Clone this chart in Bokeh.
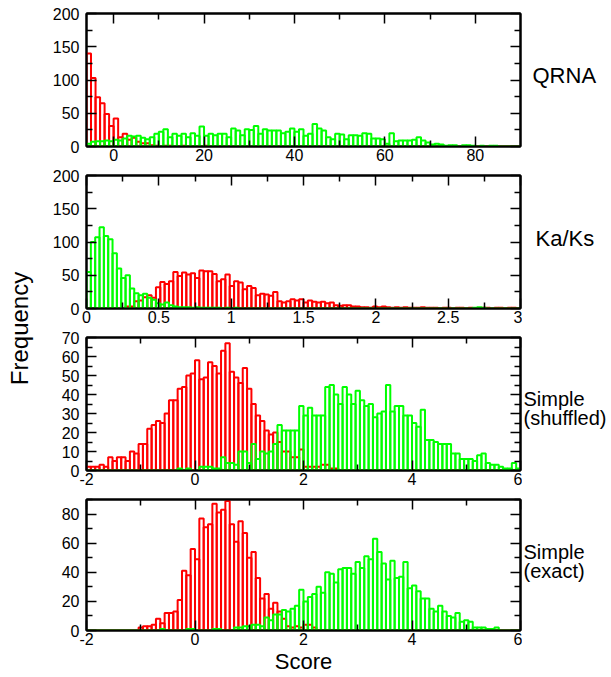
import numpy as np
from bokeh.plotting import figure
from bokeh.models import Range1d, LinearAxis, FixedTicker, CustomJSTickFormatter
from bokeh.layouts import row, column
from bokeh.embed import file_html
from bokeh.resources import INLINE
from bokeh.core.properties import value

# ---------------- data (histogram counts) ----------------
# QRNA: bins of width 1 starting at -6
qrna_start, qrna_bw = -6, 1.0
qrna_red = [140, 103, 74, 65, 49, 31, 42, 14, 19, 10, 13, 7, 5, 5, 2, 1, 0, 1, 1, 0,
            0, 1, 0, 0, 0, 0, 1, 0, 0, 0, 0, 0, 0, 0, 0, 0, 0, 0, 0, 0,
            0, 0, 0, 0, 0, 0, 0, 0, 0, 0, 0, 0, 0, 0, 0, 0, 0, 0, 0, 0,
            0, 0, 0, 0, 0, 0, 0, 0, 0, 0, 0, 0, 0, 0, 0, 0, 0, 0, 0, 0,
            0, 0, 0, 0, 0, 0, 0, 0, 0, 0, 0, 0, 0, 0, 0, 0]
qrna_green = [4, 7, 8, 8, 9, 8, 10, 9, 12, 16, 15, 16, 13, 11, 14,
              19, 22, 26, 14, 19, 16, 19, 14, 20, 16, 30, 16, 19, 17, 19,
              19, 14, 27, 24, 17, 26, 25, 31, 19, 26, 24, 24, 24, 20, 22,
              27, 22, 26, 16, 19, 34, 27, 24, 14, 11, 19, 18, 11, 17, 17,
              16, 20, 19, 12, 12, 11, 4, 20, 8, 9, 9, 9, 10, 14, 9,
              6, 3, 4, 3, 1, 2, 2, 0, 2, 2, 1, 0, 1, 0, 1,
              1, 0, 0, 0, 0, 0]

# Ka/Ks: bins of width 0.03 starting at 0
kaks_start, kaks_bw = 0.0, 0.03
kaks_green = [55, 100, 107, 122, 109, 104, 83, 60, 46, 50, 30, 23, 20, 22, 16, 13, 8, 6, 9, 5,
              3, 2, 2, 2, 1, 2, 1, 1, 1, 1, 1, 0, 1, 0, 1, 0, 0, 0, 0, 0,
              0, 0, 0, 0, 0, 0, 0, 0, 0, 0, 0, 0, 0, 0, 0, 0, 0, 0, 0, 0,
              0, 0, 0, 0, 0, 0, 0, 0, 0, 0, 0, 0, 0, 0, 0, 0, 0, 0, 0, 0,
              0, 0, 0, 0, 0, 0, 0, 0, 0, 1, 2, 1, 0, 0, 0, 0, 0, 0, 0, 0]
kaks_red = [0, 0, 0, 0, 0, 0, 0, 0, 0, 3, 3, 11, 12, 17, 20, 16, 32, 40, 37, 41,
            55, 49, 54, 51, 53, 46, 57, 56, 56, 52, 41, 44, 51, 34, 41, 39, 29, 34, 31, 20,
            22, 21, 19, 25, 11, 9, 11, 14, 12, 14, 9, 12, 10, 9, 10, 8, 9, 5, 4, 5,
            5, 3, 3, 2, 2, 1, 3, 2, 3, 2, 1, 2, 1, 2, 1, 1, 1, 2, 1, 1,
            1, 0, 1, 1, 0, 1, 1, 0, 1, 0, 0, 1, 1, 0, 1, 1, 0, 1, 1, 0]

# Simple (shuffled): bins of width 0.08 starting at -2
simple_start, simple_bw = -2.0, 0.08
shuf_red = [2, 2, 2, 3, 2, 7, 5, 7, 7, 5, 10, 9, 14, 14, 22, 24, 26, 25, 30, 37,
            37, 43, 44, 50, 51, 58, 48, 49, 57, 55, 51, 63, 67, 52, 49, 46, 54, 43, 35, 29,
            26, 21, 19, 20, 15, 10, 10, 7, 7, 11, 2, 2, 2, 2, 3, 3, 1, 1, 0, 0,
            0, 0, 0, 0, 0, 0, 0, 0, 0, 0, 0, 0, 0, 0, 0, 0, 0, 0, 0, 0,
            0, 0, 0, 0, 0, 0, 0, 0, 0, 0, 0, 0, 0, 0, 0, 0, 0, 0, 0, 0]
shuf_green = [0, 0, 0, 0, 0, 0, 0, 0, 0, 0, 0, 0, 0, 0, 0, 0, 0, 0, 0, 0,
              0, 1, 0, 1, 0, 0, 2, 2, 2, 1, 1, 7, 4, 4, 3, 10, 10, 4, 14, 6,
              10, 9, 10, 14, 24, 21, 21, 21, 21, 34, 29, 33, 29, 29, 29, 44, 45, 40, 35, 44,
              40, 35, 42, 37, 34, 35, 28, 30, 31, 45, 31, 34, 34, 29, 29, 25, 23, 32, 16, 16,
              15, 14, 14, 14, 9, 9, 6, 6, 6, 5, 8, 9, 4, 3, 3, 2, 1, 1, 4, 1]

# Simple (exact): bins of width 0.08 starting at -2
exact_red = [0, 0, 0, 0, 0, 0, 0, 0, 0, 0, 0, 0, 2, 3, 3, 4, 8, 5, 12, 12,
             13, 21, 41, 38, 56, 49, 77, 71, 73, 87, 81, 83, 89, 73, 61, 75, 67, 50, 54, 36,
             22, 25, 15, 19, 13, 8, 3, 2, 3, 2, 4, 4, 2, 0, 0, 0, 0, 0, 0, 0,
             0, 0, 0, 0, 0, 0, 0, 0, 0, 0, 0, 0, 0, 0, 0, 0, 0, 0, 0, 0,
             0, 0, 0, 0, 0, 0, 0, 0, 0, 0, 0, 0, 0, 0, 0, 0, 0, 0, 0, 0]
exact_green = [0, 0, 0, 0, 0, 0, 0, 0, 0, 0, 0, 0, 0, 0, 0, 0, 0, 1, 0, 0,
               0, 0, 0, 1, 1, 0, 0, 0, 0, 1, 1, 0, 0, 0, 2, 2, 3, 3, 4, 4,
               3, 9, 7, 11, 11, 14, 13, 15, 17, 28, 20, 23, 25, 30, 26, 40, 39, 33, 42, 43,
               43, 39, 47, 43, 51, 49, 63, 54, 46, 35, 48, 36, 37, 47, 29, 31, 27, 22, 22, 15,
               13, 17, 13, 10, 9, 12, 6, 7, 6, 2, 2, 2, 1, 1, 2, 0, 0, 0, 0, 0]

# axis ticks
qrna_xmajor = [0, 20, 40, 60, 80]
qrna_xminor = [10, 30, 50, 70]
kaks_xmajor = [0, 0.5, 1, 1.5, 2, 2.5, 3]
kaks_xminor = [0.25, 0.75, 1.25, 1.75, 2.25, 2.75]
simple_xmajor = [-2, 0, 2, 4, 6]
simple_xminor = [-1, 1, 3, 5]
y200_major = [0, 50, 100, 150, 200]
y200_minor = [25, 75, 125, 175]
y70_major = [0, 10, 20, 30, 40, 50, 60, 70]
y70_minor = [5, 15, 25, 35, 45, 55, 65]
y90_major = [0, 20, 40, 60, 80]
y90_minor = [10, 30, 50, 70, 90]

panel_names = [["QRNA"], ["Ka/Ks"], ["Simple", "(shuffled)"], ["Simple", "(exact)"]]

# ---------------- styling / layout ----------------
FONT = "Liberation Sans"
TICK_FONT = "16px"
LEFT_W = 38                 # column holding "Frequency"
BL, BR, FW = 48, 2, 434     # panel borders and frame width
PW = BL + FW + BR
RIGHT_W = 88                # column holding the panel names
RED, GREEN = "#ff0000", "#00ff00"
HEIGHTS = [(13, 133, 20), (9, 133, 20), (9, 133, 20), (9, 131, 46)]  # top, frame, bottom
TOTAL_H = sum(sum(h) for h in HEIGHTS)


def style_axis(ax, labelled):
    ax.major_tick_in, ax.major_tick_out = 10, 0
    ax.minor_tick_in, ax.minor_tick_out = 6, 0
    ax.axis_line_width = 2
    ax.major_tick_line_width = 1.5
    ax.minor_tick_line_width = 1.5
    if labelled:
        ax.major_label_text_font = FONT
        ax.major_label_text_font_size = TICK_FONT
        ax.major_label_text_color = "black"
    else:
        ax.major_label_text_font_size = "1px"
        ax.major_label_text_color = None
        ax.major_label_standoff = 0


def make_panel(x0, x1, start, bw, red, green, y1, xmaj, xmin, ymaj, ymin, dims, xlabel=None):
    bt, fh, bb = dims
    p = figure(width=PW, height=bt + fh + bb, x_range=Range1d(x0, x1), y_range=Range1d(0, y1),
               output_backend="svg", toolbar_location=None,
               x_axis_type=None, y_axis_type=None,
               min_border_left=BL, min_border_right=BR,
               min_border_top=bt, min_border_bottom=bb)
    p.outline_line_color = "black"
    p.outline_line_width = 2
    n = len(red)
    left = [start + bw * i for i in range(n)]
    right = [start + bw * (i + 1) for i in range(n)]
    p.quad(left=left, right=right, bottom=0, top=red, fill_color=None,
           line_color=RED, line_width=2)
    p.quad(left=left, right=right, bottom=0, top=green, fill_color=None,
           line_color=GREEN, line_width=2)

    fmt = CustomJSTickFormatter(code="return String(Math.round(tick*1000)/1000);")
    for loc in ["below", "above", "left", "right"]:
        if loc in ("below", "above"):
            ax = LinearAxis(ticker=FixedTicker(ticks=xmaj, minor_ticks=xmin), formatter=fmt)
        else:
            ax = LinearAxis(ticker=FixedTicker(ticks=ymaj, minor_ticks=ymin), formatter=fmt)
        style_axis(ax, loc in ("below", "left"))
        if loc == "below":
            ax.major_label_standoff = 2
            if xlabel:
                ax.axis_label = xlabel
                ax.axis_label_text_font = FONT
                ax.axis_label_text_font_size = "22px"
                ax.axis_label_text_font_style = "normal"
                ax.axis_label_text_color = "black"
                ax.axis_label_standoff = 1
        if loc == "left":
            ax.major_label_standoff = 7
        p.add_layout(ax, loc)
    return p


p1 = make_panel(-6, 90, qrna_start, qrna_bw, qrna_red, qrna_green, 200,
                qrna_xmajor, qrna_xminor, y200_major, y200_minor, HEIGHTS[0])
p2 = make_panel(0, 3, kaks_start, kaks_bw, kaks_red, kaks_green, 200,
                kaks_xmajor, kaks_xminor, y200_major, y200_minor, HEIGHTS[1])
p3 = make_panel(-2, 6, simple_start, simple_bw, shuf_red, shuf_green, 70,
                simple_xmajor, simple_xminor, y70_major, y70_minor, HEIGHTS[2])
p4 = make_panel(-2, 6, simple_start, simple_bw, exact_red, exact_green, 90,
                simple_xmajor, simple_xminor, y90_major, y90_minor, HEIGHTS[3], xlabel="Score")

# left column: "Frequency"
pl = figure(width=LEFT_W, height=TOTAL_H, x_range=Range1d(0, LEFT_W), y_range=Range1d(0, TOTAL_H),
            output_backend="svg", toolbar_location=None, x_axis_type=None, y_axis_type=None,
            min_border=0)
pl.outline_line_color = None
pl.text(x=[19], y=[TOTAL_H - 328], text=["Frequency"], angle=np.pi / 2,
        text_align="center", text_baseline="middle", text_font=value(FONT),
        text_font_size="24px", text_color="black")

# right column: panel names (page-pixel placement of each text line)
name_pos = [[(10, 75, "22px")], [(13, 238, "22px")],
            [(1, 398, "20px"), (1, 417, "20px")], [(1, 551, "20px"), (1, 570, "20px")]]
pr = figure(width=RIGHT_W, height=TOTAL_H, x_range=Range1d(0, RIGHT_W), y_range=Range1d(0, TOTAL_H),
            output_backend="svg", toolbar_location=None, x_axis_type=None, y_axis_type=None,
            min_border=0)
pr.outline_line_color = None
for names, poss in zip(panel_names, name_pos):
    for txt, (px, py, size) in zip(names, poss):
        pr.text(x=[px], y=[TOTAL_H - py], text=[txt], text_align="left",
                text_baseline="alphabetic", text_font=value(FONT),
                text_font_size=size, text_color="black")

layout = row(pl, column(p1, p2, p3, p4), pr)
open("out.html", "w").write(file_html(layout, INLINE))
